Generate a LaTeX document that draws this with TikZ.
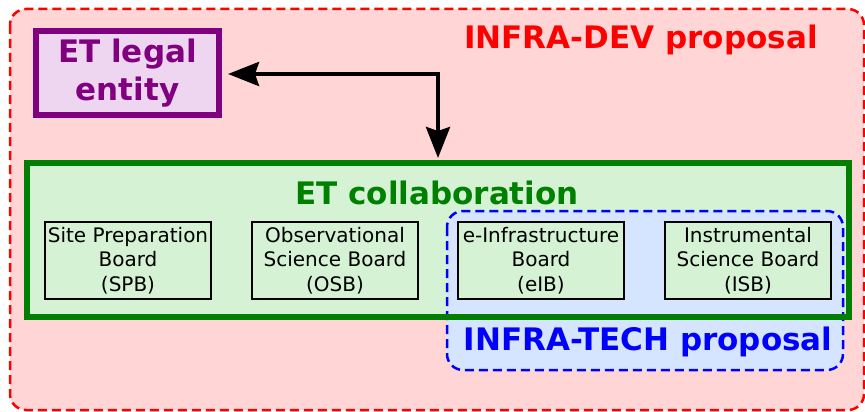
\documentclass[tikz,border=0pt]{standalone}
\usepackage{fontspec}
\setmainfont{DejaVu Sans}
\usetikzlibrary{arrows.meta}
\definecolor{devfill}{RGB}{255,213,213}
\definecolor{legalfill}{RGB}{238,213,240}
\definecolor{collfill}{RGB}{213,242,213}
\definecolor{techfill}{RGB}{213,229,255}
\definecolor{collgreen}{RGB}{0,128,0}
\definecolor{legalpurple}{RGB}{128,0,128}
\tikzset{
  bigtext/.style={font=\fontsize{31}{38}\selectfont\bfseries, align=center},
  board/.style={draw=black, fill=collfill, line width=1.5pt, minimum width=166pt, minimum height=77pt,
    inner sep=0pt, align=center, font=\fontsize{20}{24.5}\selectfont},
  proposal/.style={dashed, dash pattern=on 9pt off 5pt, line width=2.5pt, rounded corners=16pt},
  bigtip/.tip={Stealth[length=31pt,width=24pt,inset=4pt]},
}
\begin{document}
\begin{tikzpicture}[x=1pt, y=-1pt]
         \useasboundingbox (0,0) rectangle (865,412);
         % proposals and collaboration
         \draw [proposal, red, fill=devfill] (10,9) rectangle (864,410);
         \node [fill=collfill, minimum width=822pt, minimum height=154pt, outer sep=0pt] (coll) at (438,240) {};
         \draw [proposal, blue, fill=techfill] (447,211) rectangle (843,370);
         \draw [collgreen, line width=6pt] (coll.north west) rectangle (coll.south east);
         \node [bigtext, red] (dev) at (641,40) {INFRA-DEV proposal};
         \node [bigtext, blue] (tech) at (648,342) {INFRA-TECH proposal};
         \node [bigtext, collgreen] (colltitle) at (437,193) {ET collaboration};
         % legal entity
         \node [bigtext, legalpurple, draw=legalpurple, fill=legalfill, line width=6pt,
                minimum width=183pt, minimum height=84pt, inner sep=0pt] (LE) at (127.5,73) {ET legal\\entity};
         \coordinate (K) at (438,74);
         \draw [bigtip-bigtip, line width=4pt, shorten <=6pt, shorten >=5pt]
                (LE.east |- K) -- (K) -- (K |- coll.north);
         % boards
         \node [board] (SPB) at (128,260.5) {Site Preparation\\Board\\(SPB)};
         \node [board] (OSB) at (335,260.5) {Observational\\Science Board\\(OSB)};
         \node [board] (eIB) at (541,260.5) {e-Infrastructure\\Board\\(eIB)};
         \node [board] (ISB) at (748,260.5) {Instrumental\\Science Board\\(ISB)};
\end{tikzpicture}
\end{document}
